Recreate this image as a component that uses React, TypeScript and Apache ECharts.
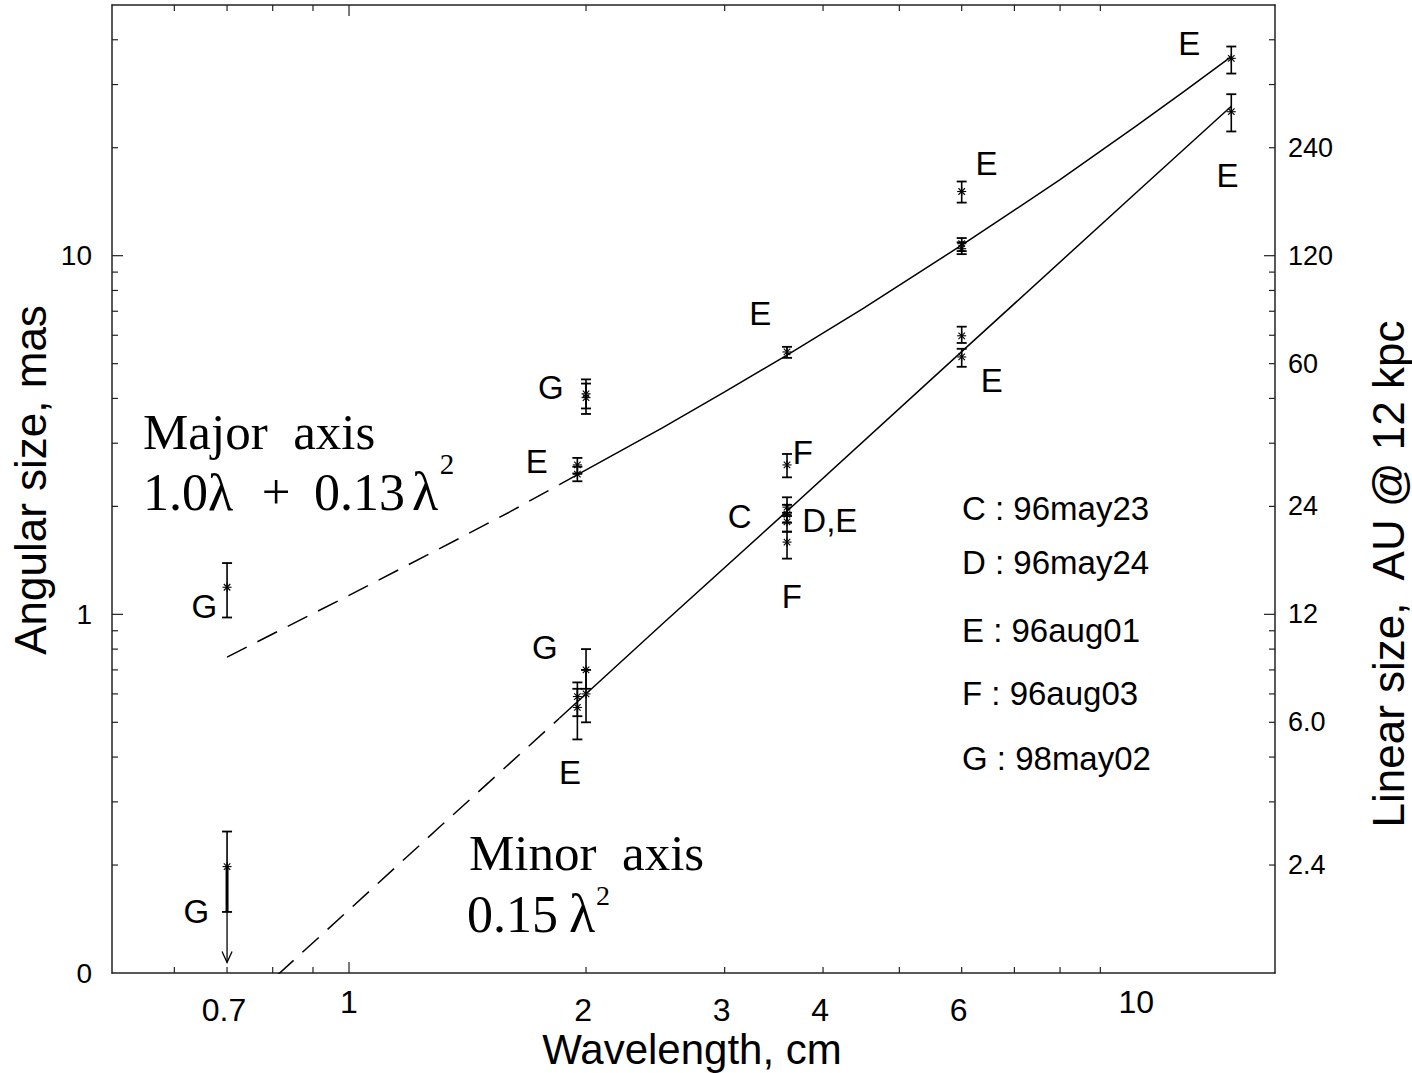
import React, { useEffect, useRef } from "react";
import * as echarts from "echarts";

// ---------------- axes ----------------
const lamMin = 0.5;
const lamMax = 15;
const masMin = 0.1;
const masMax = 50;
const auPerMas = 12;

const xTickMajor = [1];
const xTickMinor = [0.6, 0.7, 0.8, 0.9, 2, 3, 4, 5, 6, 7, 8, 9];
const xLabelValues = [0.7, 1, 2, 3, 4, 6, 10];
const xLabelTexts = ["0.7", "1", "2", "3", "4", "6", "10"];

const yTickMajor = [1, 10];
const yTickMinor = [0.2, 0.3, 0.4, 0.5, 0.6, 0.7, 0.8, 0.9, 2, 3, 4, 5, 6, 7, 8, 9, 20, 30, 40];
const yLabelValues = [0.1, 1, 10];
const yLabelTexts = ["0", "1", "10"];

const auTickMajor = [12, 120];
const auTickMinor = [2.4, 3.6, 4.8, 6, 7.2, 8.4, 9.6, 10.8, 24, 36, 48, 60, 72, 84, 96, 108, 240, 360, 480];
const auLabelValues = [2.4, 6, 12, 24, 60, 120, 240];
const auLabelTexts = ["2.4", "6.0", "12", "24", "60", "120", "240"];

// ---------------- model curves ----------------
const majorDashLam = [0.7, 1.0, 1.3, 1.6, 1.85];
const majorDashVal = [0.76, 1.13, 1.52, 1.93, 2.3];
const majorSolidLam = [1.85, 2.5, 3.0, 3.6, 4.5, 6.0, 7.0, 8.0, 10.0, 11.5, 13.2];
const majorSolidVal = [2.3, 3.31, 4.17, 5.28, 7.13, 10.7, 13.4, 16.3, 23.0, 28.7, 35.9];
const minorDashLam = [0.7, 1.0, 1.3, 1.6, 1.85];
const minorDashVal = [0.0735, 0.15, 0.254, 0.384, 0.513];
const minorSolidLam = [1.85, 2.5, 3.6, 6.0, 10.0, 13.2];
const minorSolidVal = [0.513, 0.94, 1.94, 5.4, 15.0, 26.1];

// ---------------- measurements ----------------
const obsEpoch = ["G", "G", "G", "E", "E", "E", "E", "E", "E", "E", "E", "E", "E", "F", "C", "D", "E", "F", "G", "G", "E", "E", "G"];
const obsLam = [0.7, 2.0, 2.0, 1.95, 1.95, 3.6, 6.0, 6.0, 6.0, 13.2, 13.2, 6.0, 6.0, 3.6, 3.6, 3.6, 3.6, 3.6, 2.0, 2.0, 1.95, 1.95, 0.7];
const obsSize = [1.19, 4.12, 4.02, 2.61, 2.46, 5.39, 15.1, 10.8, 10.46, 35.5, 25.2, 5.98, 5.22, 2.61, 1.99, 1.9, 1.81, 1.59, 0.7, 0.6, 0.59, 0.55, 0.198];
const obsLow = [0.98, 3.75, 3.62, 2.47, 2.35, 5.19, 14.06, 10.3, 10.1, 32.2, 22.2, 5.71, 4.9, 2.41, 1.88, 1.8, 1.7, 1.43, 0.62, 0.5, 0.52, 0.448, 0.148];
const obsHigh = [1.39, 4.52, 4.4, 2.73, 2.58, 5.57, 16.1, 11.2, 10.9, 38.3, 28.2, 6.34, 5.5, 2.8, 2.12, 2.02, 1.92, 1.7, 0.8, 0.7, 0.646, 0.62, 0.248];
const obsLimit = [0, 0, 0, 0, 0, 0, 0, 0, 0, 0, 0, 0, 0, 0, 0, 0, 0, 0, 0, 0, 0, 0, 0.107];

// point tags
const tagText = ["E", "E", "E", "E", "G", "E", "E", "F", "C", "D,E", "F", "G", "G", "E", "G"];
const tagLam = [11.67, 6.45, 13.05, 3.33, 1.805, 6.55, 1.732, 3.77, 3.135, 4.08, 3.65, 0.655, 1.773, 1.908, 0.64];
const tagSize = [39.1, 18.1, 16.7, 6.89, 4.28, 4.5, 2.66, 2.83, 1.88, 1.83, 1.12, 1.05, 0.809, 0.362, 0.148];

// epochs
const epochCodes = ["C", "D", "E", "F", "G"];
const epochDates = ["96may23", "96may24", "96aug01", "96aug03", "98may02"];

const SANS = '"Liberation Sans", Arial, Helvetica, sans-serif';
const SERIF = '"Liberation Serif", "Times New Roman", Times, serif';
const INK = "#000";
const AXIS = "#222";

function seg(x1: number, y1: number, x2: number, y2: number, w = 1.5, color = INK) {
  return { type: "line", shape: { x1, y1, x2, y2 }, style: { stroke: color, lineWidth: w } };
}

function txt(x: number, y: number, text: string, size: number, align = "center", family = SANS, rotation = 0) {
  return {
    type: "text",
    x,
    y,
    rotation,
    style: {
      text,
      font: `${size}px ${family}`,
      fill: INK,
      align,
      verticalAlign: "middle",
      textAlign: align,
      textVerticalAlign: "middle",
    },
  };
}

function pairs(xs: number[], ys: number[]) {
  return xs.map((x, i) => [x, ys[i]]);
}

function lineSeries(xs: number[], ys: number[], dashed: boolean) {
  return {
    type: "line",
    data: pairs(xs, ys),
    symbol: "none",
    showSymbol: false,
    clip: true,
    silent: true,
    z: 3,
    lineStyle: { color: INK, width: 1.5, type: dashed ? [22, 12] : "solid" },
  };
}

function buildOption() {
  const axisCommon = {
    type: "log",
    logBase: 10,
    axisLine: { show: true, onZero: false, lineStyle: { color: AXIS, width: 1.5 } },
    axisTick: { show: false },
    axisLabel: { show: false },
    splitLine: { show: false },
    minorTick: { show: false },
  };

  const obsData = obsLam.map((l, i) => [l, obsSize[i], obsLow[i], obsHigh[i], obsLimit[i]]);

  const series: any[] = [
    lineSeries(majorDashLam, majorDashVal, true),
    lineSeries(majorSolidLam, majorSolidVal, false),
    lineSeries(minorDashLam, minorDashVal, true),
    lineSeries(minorSolidLam, minorSolidVal, false),
    {
      type: "custom",
      name: "observations",
      silent: true,
      z: 6,
      data: obsData,
      renderItem: (params: any, api: any) => {
        const lam = api.value(0);
        const c = api.coord([lam, api.value(1)]);
        const lo = api.coord([lam, api.value(2)]);
        const hi = api.coord([lam, api.value(3)]);
        const lim = api.value(4);
        const x = c[0];
        const cap = 5;
        const ch: any[] = [
          seg(x, hi[1], x, lo[1], 1.6),
          seg(x - cap, hi[1], x + cap, hi[1], 1.8),
          seg(x - cap, lo[1], x + cap, lo[1], 1.8),
        ];
        const r = 4.5;
        const d = r * 0.72;
        ch.push(seg(x - r, c[1], x + r, c[1], 1.1));
        ch.push(seg(x - d, c[1] - d, x + d, c[1] + d, 1.1));
        ch.push(seg(x - d, c[1] + d, x + d, c[1] - d, 1.1));
        ch.push(seg(x, c[1] - r, x, c[1] + r, 1.1));
        if (lim > 0) {
          const a = api.coord([lam, lim]);
          ch.push(seg(x, c[1], x, lo[1], 3));
          ch.push(seg(x, lo[1], x, a[1], 1.3));
          ch.push({
            type: "polyline",
            shape: { points: [[x - 5, a[1] - 11], [x, a[1]], [x + 5, a[1] - 11]] },
            style: { stroke: INK, lineWidth: 1.3, fill: "none" },
          });
        }
        return { type: "group", children: ch };
      },
    },
    {
      type: "custom",
      name: "tags",
      silent: true,
      z: 7,
      data: pairs(tagLam, tagSize),
      renderItem: (params: any, api: any) => {
        const p = api.coord([api.value(0), api.value(1)]);
        return txt(p[0], p[1], tagText[params.dataIndex], 33);
      },
    },
    // x ticks (bottom and top)
    {
      type: "custom",
      silent: true,
      z: 5,
      data: [...xTickMajor.map((v) => [v, 1, 1]), ...xTickMinor.map((v) => [v, 1, 0])],
      renderItem: (params: any, api: any) => {
        const cs = params.coordSys;
        const x = api.coord([api.value(0), 1])[0];
        const len = api.value(2) ? 11 : 6;
        const b = cs.y + cs.height;
        return {
          type: "group",
          children: [seg(x, b, x, b - len, 1.2, AXIS), seg(x, cs.y, x, cs.y + len, 1.2, AXIS)],
        };
      },
    },
    // x tick labels
    {
      type: "custom",
      silent: true,
      z: 5,
      data: xLabelValues.map((v) => [v, 1]),
      renderItem: (params: any, api: any) => {
        const cs = params.coordSys;
        const v = api.value(0);
        const x = api.coord([v, 1])[0];
        const isDecade = Math.abs(Math.log10(v) - Math.round(Math.log10(v))) < 1e-6;
        const y = cs.y + cs.height + (isDecade ? 29 : 37);
        return txt(x - (isDecade ? 0 : 3), y, xLabelTexts[params.dataIndex], 32);
      },
    },
    // left y ticks
    {
      type: "custom",
      silent: true,
      z: 5,
      data: [...yTickMajor.map((v) => [1, v, 1]), ...yTickMinor.map((v) => [1, v, 0])],
      renderItem: (params: any, api: any) => {
        const cs = params.coordSys;
        const y = api.coord([1, api.value(1)])[1];
        const len = api.value(2) ? 11 : 6;
        return seg(cs.x, y, cs.x + len, y, 1.2, AXIS);
      },
    },
    // left y labels
    {
      type: "custom",
      silent: true,
      z: 5,
      data: yLabelValues.map((v) => [1, v]),
      renderItem: (params: any, api: any) => {
        const cs = params.coordSys;
        const y = api.coord([1, api.value(1)])[1];
        return txt(cs.x - 20, y, yLabelTexts[params.dataIndex], 28, "right");
      },
    },
    // right (AU) ticks
    {
      type: "custom",
      silent: true,
      z: 5,
      yAxisIndex: 1,
      data: [...auTickMajor.map((v) => [1, v, 1]), ...auTickMinor.map((v) => [1, v, 0])],
      renderItem: (params: any, api: any) => {
        const cs = params.coordSys;
        const y = api.coord([1, api.value(1)])[1];
        const len = api.value(2) ? 11 : 6;
        const r = cs.x + cs.width;
        return seg(r, y, r - len, y, 1.2, AXIS);
      },
    },
    // right (AU) labels
    {
      type: "custom",
      silent: true,
      z: 5,
      yAxisIndex: 1,
      data: auLabelValues.map((v) => [1, v]),
      renderItem: (params: any, api: any) => {
        const cs = params.coordSys;
        const y = api.coord([1, api.value(1)])[1];
        return txt(cs.x + cs.width + 13, y, auLabelTexts[params.dataIndex], 27, "left");
      },
    },
  ];

  const legendY = [508, 562, 630, 693, 758];
  const legend = epochCodes.map((c, i) => txt(962, legendY[i], `${c} : ${epochDates[i]}`, 33, "left"));

  const graphic: any[] = [
    txt(30, 480, "Angular size, mas", 44, "center", SANS, Math.PI / 2),
    txt(692, 1049, "Wavelength, cm", 42, "center"),
    txt(1388, 574, "Linear size,  AU @ 12 kpc", 44, "center", SANS, Math.PI / 2),
    // major-axis fit
    txt(143, 432, "Major\u00a0\u00a0axis", 51, "left", SERIF),
    txt(143, 492, "1.0\u03bb", 52, "left", SERIF),
    txt(276, 492, "+", 51, "center", SERIF),
    txt(314, 492, "0.13", 52, "left", SERIF),
    txt(412, 492, "\u03bb", 54, "left", SERIF),
    txt(447, 464, "2", 29, "center", SERIF),
    // minor-axis fit
    txt(469, 853, "Minor\u00a0\u00a0axis", 51, "left", SERIF),
    txt(467, 914, "0.15", 52, "left", SERIF),
    txt(569, 914, "\u03bb", 54, "left", SERIF),
    txt(603, 895, "2", 28, "center", SERIF),
    ...legend,
  ];

  return {
    animation: false,
    backgroundColor: "#fff",
    grid: { left: 112, right: 137, top: 5, bottom: 100, containLabel: false, outerBoundsMode: "none" },
    xAxis: [
      { ...axisCommon, min: lamMin, max: lamMax, position: "bottom" },
      { ...axisCommon, min: lamMin, max: lamMax, position: "top" },
    ],
    yAxis: [
      { ...axisCommon, min: masMin, max: masMax, position: "left" },
      { ...axisCommon, min: masMin * auPerMas, max: masMax * auPerMas, position: "right" },
    ],
    series,
    graphic,
  };
}

export default function App() {
  const ref = useRef<HTMLDivElement>(null);
  useEffect(() => {
    if (!ref.current) return;
    const chart = echarts.init(ref.current, null, { renderer: "svg" });
    chart.setOption(buildOption() as any);
    return () => chart.dispose();
  }, []);
  return (
    <div
      ref={ref}
      style={{ position: "absolute", left: 0, top: 0, width: 1412, height: 1073, background: "#fff" }}
    />
  );
}
